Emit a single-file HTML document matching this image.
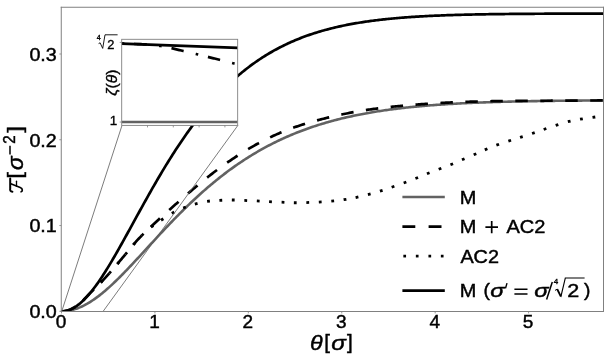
<!DOCTYPE html>
<html><head><meta charset="utf-8"><title>plot</title>
<style>html,body{margin:0;padding:0;background:#fff;}svg{display:block;will-change:transform;}text{font-family:"Liberation Sans",sans-serif;fill:#000;}</style>
</head><body>
<svg width="610" height="360" viewBox="0 0 610 360">
<rect x="0" y="0" width="610" height="360" fill="#fff"/>
<defs><clipPath id="ax"><rect x="61.5" y="7.5" width="542.0" height="303.8"/></clipPath>
<clipPath id="ins"><rect x="121.7" y="39.3" width="115.97" height="86.1"/></clipPath></defs>
<g clip-path="url(#ax)" fill="none" stroke-linejoin="round">
<path d="M61.50,311.30 L62.86,311.28 L64.22,311.21 L65.57,311.10 L66.93,310.95 L68.29,310.75 L69.65,310.51 L71.01,310.23 L72.36,309.90 L73.72,309.54 L75.08,309.13 L76.44,308.68 L77.80,308.18 L79.15,307.65 L80.51,307.08 L81.87,306.47 L83.23,305.82 L84.59,305.14 L85.94,304.41 L87.30,303.66 L88.66,302.86 L90.02,302.03 L91.38,301.17 L92.73,300.28 L94.09,299.35 L95.45,298.40 L96.81,297.41 L98.17,296.40 L99.52,295.35 L100.88,294.28 L102.24,293.19 L103.60,292.07 L104.96,290.92 L106.31,289.75 L107.67,288.56 L109.03,287.35 L110.39,286.11 L111.75,284.86 L113.10,283.59 L114.46,282.30 L115.82,281.00 L117.18,279.67 L118.54,278.34 L119.89,276.99 L121.25,275.62 L122.61,274.25 L123.97,272.86 L125.33,271.46 L126.68,270.05 L128.04,268.63 L129.40,267.20 L130.76,265.77 L132.12,264.32 L133.47,262.87 L134.83,261.42 L136.19,259.96 L137.55,258.50 L138.91,257.03 L140.26,255.56 L141.62,254.08 L142.98,252.61 L144.34,251.13 L145.70,249.65 L147.05,248.17 L148.41,246.69 L149.77,245.22 L151.13,243.74 L152.48,242.26 L153.84,240.79 L155.20,239.32 L156.56,237.85 L157.92,236.39 L159.27,234.93 L160.63,233.47 L161.99,232.02 L163.35,230.57 L164.71,229.13 L166.06,227.69 L167.42,226.26 L168.78,224.83 L170.14,223.42 L171.50,222.00 L172.85,220.60 L174.21,219.20 L175.57,217.81 L176.93,216.43 L178.29,215.05 L179.64,213.68 L181.00,212.32 L182.36,210.97 L183.72,209.63 L185.08,208.30 L186.43,206.97 L187.79,205.65 L189.15,204.35 L190.51,203.05 L191.87,201.76 L193.22,200.48 L194.58,199.21 L195.94,197.96 L197.30,196.71 L198.66,195.47 L200.01,194.24 L201.37,193.02 L202.73,191.81 L204.09,190.61 L205.45,189.42 L206.80,188.24 L208.16,187.08 L209.52,185.92 L210.88,184.77 L212.24,183.64 L213.59,182.51 L214.95,181.39 L216.31,180.29 L217.67,179.19 L219.03,178.11 L220.38,177.04 L221.74,175.98 L223.10,174.92 L224.46,173.88 L225.82,172.85 L227.17,171.83 L228.53,170.82 L229.89,169.82 L231.25,168.83 L232.61,167.86 L233.96,166.89 L235.32,165.93 L236.68,164.98 L238.04,164.05 L239.40,163.12 L240.75,162.21 L242.11,161.30 L243.47,160.40 L244.83,159.52 L246.19,158.64 L247.54,157.78 L248.90,156.92 L250.26,156.08 L251.62,155.24 L252.98,154.42 L254.33,153.60 L255.69,152.80 L257.05,152.00 L258.41,151.21 L259.77,150.44 L261.12,149.67 L262.48,148.91 L263.84,148.16 L265.20,147.42 L266.56,146.69 L267.91,145.97 L269.27,145.26 L270.63,144.56 L271.99,143.86 L273.35,143.18 L274.70,142.50 L276.06,141.83 L277.42,141.17 L278.78,140.52 L280.14,139.88 L281.49,139.25 L282.85,138.62 L284.21,138.00 L285.57,137.40 L286.93,136.80 L288.28,136.20 L289.64,135.62 L291.00,135.04 L292.36,134.47 L293.72,133.91 L295.07,133.36 L296.43,132.81 L297.79,132.28 L299.15,131.74 L300.51,131.22 L301.86,130.71 L303.22,130.20 L304.58,129.70 L305.94,129.20 L307.30,128.71 L308.65,128.23 L310.01,127.76 L311.37,127.29 L312.73,126.83 L314.09,126.38 L315.44,125.93 L316.80,125.49 L318.16,125.06 L319.52,124.63 L320.88,124.21 L322.23,123.80 L323.59,123.39 L324.95,122.99 L326.31,122.59 L327.67,122.20 L329.02,121.82 L330.38,121.44 L331.74,121.06 L333.10,120.70 L334.45,120.33 L335.81,119.98 L337.17,119.63 L338.53,119.28 L339.89,118.94 L341.24,118.61 L342.60,118.28 L343.96,117.95 L345.32,117.63 L346.68,117.32 L348.03,117.01 L349.39,116.71 L350.75,116.41 L352.11,116.11 L353.47,115.82 L354.82,115.54 L356.18,115.25 L357.54,114.98 L358.90,114.71 L360.26,114.44 L361.61,114.18 L362.97,113.92 L364.33,113.66 L365.69,113.41 L367.05,113.16 L368.40,112.92 L369.76,112.68 L371.12,112.45 L372.48,112.22 L373.84,111.99 L375.19,111.77 L376.55,111.55 L377.91,111.33 L379.27,111.12 L380.63,110.91 L381.98,110.71 L383.34,110.51 L384.70,110.31 L386.06,110.12 L387.42,109.92 L388.77,109.74 L390.13,109.55 L391.49,109.37 L392.85,109.19 L394.21,109.02 L395.56,108.85 L396.92,108.68 L398.28,108.51 L399.64,108.35 L401.00,108.19 L402.35,108.03 L403.71,107.87 L405.07,107.72 L406.43,107.57 L407.79,107.43 L409.14,107.28 L410.50,107.14 L411.86,107.00 L413.22,106.86 L414.58,106.73 L415.93,106.60 L417.29,106.47 L418.65,106.34 L420.01,106.22 L421.37,106.10 L422.72,105.98 L424.08,105.86 L425.44,105.74 L426.80,105.63 L428.16,105.52 L429.51,105.41 L430.87,105.30 L432.23,105.19 L433.59,105.09 L434.95,104.99 L436.30,104.89 L437.66,104.79 L439.02,104.70 L440.38,104.60 L441.74,104.51 L443.09,104.42 L444.45,104.33 L445.81,104.24 L447.17,104.16 L448.53,104.07 L449.88,103.99 L451.24,103.91 L452.60,103.83 L453.96,103.76 L455.32,103.68 L456.67,103.60 L458.03,103.53 L459.39,103.46 L460.75,103.39 L462.11,103.32 L463.46,103.25 L464.82,103.19 L466.18,103.12 L467.54,103.06 L468.90,103.00 L470.25,102.93 L471.61,102.88 L472.97,102.82 L474.33,102.76 L475.69,102.70 L477.04,102.65 L478.40,102.59 L479.76,102.54 L481.12,102.49 L482.48,102.44 L483.83,102.39 L485.19,102.34 L486.55,102.29 L487.91,102.24 L489.27,102.20 L490.62,102.15 L491.98,102.11 L493.34,102.07 L494.70,102.02 L496.06,101.98 L497.41,101.94 L498.77,101.90 L500.13,101.86 L501.49,101.82 L502.85,101.79 L504.20,101.75 L505.56,101.72 L506.92,101.68 L508.28,101.65 L509.64,101.61 L510.99,101.58 L512.35,101.55 L513.71,101.52 L515.07,101.49 L516.42,101.46 L517.78,101.43 L519.14,101.40 L520.50,101.37 L521.86,101.34 L523.21,101.31 L524.57,101.29 L525.93,101.26 L527.29,101.24 L528.65,101.21 L530.00,101.19 L531.36,101.16 L532.72,101.14 L534.08,101.12 L535.44,101.10 L536.79,101.08 L538.15,101.05 L539.51,101.03 L540.87,101.01 L542.23,100.99 L543.58,100.97 L544.94,100.96 L546.30,100.94 L547.66,100.92 L549.02,100.90 L550.37,100.88 L551.73,100.87 L553.09,100.85 L554.45,100.83 L555.81,100.82 L557.16,100.80 L558.52,100.79 L559.88,100.77 L561.24,100.76 L562.60,100.75 L563.95,100.73 L565.31,100.72 L566.67,100.70 L568.03,100.69 L569.39,100.68 L570.74,100.67 L572.10,100.66 L573.46,100.64 L574.82,100.63 L576.18,100.62 L577.53,100.61 L578.89,100.60 L580.25,100.59 L581.61,100.58 L582.97,100.57 L584.32,100.56 L585.68,100.55 L587.04,100.54 L588.40,100.53 L589.76,100.52 L591.11,100.52 L592.47,100.51 L593.83,100.50 L595.19,100.49 L596.55,100.48 L597.90,100.48 L599.26,100.47 L600.62,100.46 L601.98,100.45 L603.34,100.45" stroke="#626262" stroke-width="2.6"/>
<path d="M61.50,311.30 L62.86,311.24 L64.22,311.09 L65.57,310.84 L66.93,310.52 L68.29,310.13 L69.65,309.68 L71.01,309.17 L72.36,308.57 L73.72,307.84 L75.08,307.01 L76.44,306.09 L77.80,305.09 L79.15,304.03 L80.51,302.92 L81.87,301.68 L83.23,300.31 L84.59,298.86 L85.94,297.38 L87.30,295.89 L88.66,294.46 L90.02,293.11 L91.38,291.83 L92.73,290.56 L94.09,289.26 L95.45,287.94 L96.81,286.60 L98.17,285.23 L99.52,283.85 L100.88,282.44 L102.24,281.02 L103.60,279.58 L104.96,278.11 L106.31,276.63 L107.67,275.12 L109.03,273.59 L110.39,272.04 L111.75,270.48 L113.10,268.90 L114.46,267.32 L115.82,265.72 L117.18,264.12 L118.54,262.52 L119.89,260.92 L121.25,259.31 L122.61,257.71 L123.97,256.10 L125.33,254.46 L126.68,252.81 L128.04,251.16 L129.40,249.51 L130.76,247.86 L132.12,246.23 L133.47,244.62 L134.83,243.03 L136.19,241.48 L137.55,239.97 L138.91,238.51 L140.26,237.08 L141.62,235.69 L142.98,234.33 L144.34,233.00 L145.70,231.69 L147.05,230.39 L148.41,229.11 L149.77,227.83 L151.13,226.56 L152.48,225.28 L153.84,224.01 L155.20,222.72 L156.56,221.44 L157.92,220.17 L159.27,218.92 L160.63,217.68 L161.99,216.45 L163.35,215.22 L164.71,214.01 L166.06,212.80 L167.42,211.59 L168.78,210.39 L170.14,209.19 L171.50,207.98 L172.85,206.77 L174.21,205.56 L175.57,204.35 L176.93,203.15 L178.29,201.95 L179.64,200.76 L181.00,199.58 L182.36,198.39 L183.72,197.22 L185.08,196.05 L186.43,194.88 L187.79,193.71 L189.15,192.55 L190.51,191.39 L191.87,190.23 L193.22,189.07 L194.58,187.92 L195.94,186.78 L197.30,185.64 L198.66,184.50 L200.01,183.38 L201.37,182.26 L202.73,181.14 L204.09,180.04 L205.45,178.94 L206.80,177.85 L208.16,176.77 L209.52,175.70 L210.88,174.64 L212.24,173.59 L213.59,172.55 L214.95,171.52 L216.31,170.50 L217.67,169.49 L219.03,168.48 L220.38,167.49 L221.74,166.50 L223.10,165.53 L224.46,164.56 L225.82,163.60 L227.17,162.65 L228.53,161.71 L229.89,160.78 L231.25,159.86 L232.61,158.94 L233.96,158.04 L235.32,157.14 L236.68,156.25 L238.04,155.37 L239.40,154.50 L240.75,153.64 L242.11,152.79 L243.47,151.94 L244.83,151.11 L246.19,150.29 L247.54,149.47 L248.90,148.67 L250.26,147.88 L251.62,147.09 L252.98,146.32 L254.33,145.56 L255.69,144.80 L257.05,144.06 L258.41,143.32 L259.77,142.59 L261.12,141.88 L262.48,141.17 L263.84,140.47 L265.20,139.78 L266.56,139.10 L267.91,138.43 L269.27,137.77 L270.63,137.11 L271.99,136.47 L273.35,135.84 L274.70,135.22 L276.06,134.61 L277.42,134.01 L278.78,133.43 L280.14,132.85 L281.49,132.28 L282.85,131.72 L284.21,131.17 L285.57,130.63 L286.93,130.10 L288.28,129.58 L289.64,129.07 L291.00,128.57 L292.36,128.07 L293.72,127.58 L295.07,127.10 L296.43,126.63 L297.79,126.17 L299.15,125.71 L300.51,125.26 L301.86,124.82 L303.22,124.39 L304.58,123.97 L305.94,123.55 L307.30,123.15 L308.65,122.75 L310.01,122.35 L311.37,121.97 L312.73,121.59 L314.09,121.21 L315.44,120.84 L316.80,120.47 L318.16,120.11 L319.52,119.75 L320.88,119.39 L322.23,119.04 L323.59,118.69 L324.95,118.35 L326.31,118.01 L327.67,117.67 L329.02,117.34 L330.38,117.01 L331.74,116.69 L333.10,116.38 L334.45,116.06 L335.81,115.76 L337.17,115.46 L338.53,115.16 L339.89,114.86 L341.24,114.58 L342.60,114.29 L343.96,114.01 L345.32,113.74 L346.68,113.47 L348.03,113.20 L349.39,112.94 L350.75,112.68 L352.11,112.43 L353.47,112.18 L354.82,111.94 L356.18,111.70 L357.54,111.46 L358.90,111.23 L360.26,111.00 L361.61,110.77 L362.97,110.55 L364.33,110.33 L365.69,110.12 L367.05,109.91 L368.40,109.71 L369.76,109.51 L371.12,109.31 L372.48,109.12 L373.84,108.93 L375.19,108.75 L376.55,108.57 L377.91,108.39 L379.27,108.22 L380.63,108.05 L381.98,107.89 L383.34,107.72 L384.70,107.56 L386.06,107.41 L387.42,107.25 L388.77,107.10 L390.13,106.95 L391.49,106.81 L392.85,106.67 L394.21,106.53 L395.56,106.39 L396.92,106.25 L398.28,106.12 L399.64,105.99 L401.00,105.86 L402.35,105.74 L403.71,105.61 L405.07,105.49 L406.43,105.38 L407.79,105.26 L409.14,105.15 L410.50,105.04 L411.86,104.93 L413.22,104.82 L414.58,104.71 L415.93,104.61 L417.29,104.51 L418.65,104.41 L420.01,104.31 L421.37,104.22 L422.72,104.12 L424.08,104.03 L425.44,103.93 L426.80,103.84 L428.16,103.75 L429.51,103.66 L430.87,103.58 L432.23,103.49 L433.59,103.41 L434.95,103.32 L436.30,103.24 L437.66,103.16 L439.02,103.08 L440.38,103.01 L441.74,102.93 L443.09,102.86 L444.45,102.79 L445.81,102.72 L447.17,102.65 L448.53,102.58 L449.88,102.52 L451.24,102.45 L452.60,102.39 L453.96,102.33 L455.32,102.27 L456.67,102.21 L458.03,102.15 L459.39,102.09 L460.75,102.04 L462.11,101.99 L463.46,101.94 L464.82,101.89 L466.18,101.84 L467.54,101.79 L468.90,101.75 L470.25,101.70 L471.61,101.66 L472.97,101.62 L474.33,101.58 L475.69,101.55 L477.04,101.51 L478.40,101.48 L479.76,101.45 L481.12,101.42 L482.48,101.39 L483.83,101.36 L485.19,101.34 L486.55,101.31 L487.91,101.29 L489.27,101.26 L490.62,101.24 L491.98,101.22 L493.34,101.20 L494.70,101.18 L496.06,101.17 L497.41,101.15 L498.77,101.13 L500.13,101.12 L501.49,101.10 L502.85,101.08 L504.20,101.07 L505.56,101.05 L506.92,101.04 L508.28,101.02 L509.64,101.01 L510.99,100.99 L512.35,100.98 L513.71,100.97 L515.07,100.96 L516.42,100.94 L517.78,100.93 L519.14,100.92 L520.50,100.91 L521.86,100.91 L523.21,100.90 L524.57,100.89 L525.93,100.88 L527.29,100.87 L528.65,100.87 L530.00,100.86 L531.36,100.85 L532.72,100.84 L534.08,100.84 L535.44,100.83 L536.79,100.82 L538.15,100.81 L539.51,100.81 L540.87,100.80 L542.23,100.79 L543.58,100.78 L544.94,100.77 L546.30,100.76 L547.66,100.75 L549.02,100.74 L550.37,100.73 L551.73,100.72 L553.09,100.71 L554.45,100.70 L555.81,100.69 L557.16,100.68 L558.52,100.67 L559.88,100.66 L561.24,100.65 L562.60,100.65 L563.95,100.64 L565.31,100.63 L566.67,100.62 L568.03,100.62 L569.39,100.61 L570.74,100.60 L572.10,100.59 L573.46,100.59 L574.82,100.58 L576.18,100.57 L577.53,100.57 L578.89,100.56 L580.25,100.55 L581.61,100.55 L582.97,100.54 L584.32,100.54 L585.68,100.53 L587.04,100.52 L588.40,100.52 L589.76,100.51 L591.11,100.50 L592.47,100.50 L593.83,100.49 L595.19,100.49 L596.55,100.48 L597.90,100.47 L599.26,100.47 L600.62,100.46 L601.98,100.45 L603.34,100.45" stroke="#000" stroke-width="2.7" stroke-dasharray="12.47 12.50"/>
<path d="M61.50,311.30 L62.86,311.24 L64.22,311.09 L65.57,310.84 L66.93,310.52 L68.29,310.13 L69.65,309.68 L71.01,309.17 L72.36,308.57 L73.72,307.84 L75.08,307.01 L76.44,306.09 L77.80,305.09 L79.15,304.03 L80.51,302.92 L81.87,301.68 L83.23,300.31 L84.59,298.86 L85.94,297.38 L87.30,295.89 L88.66,294.46 L90.02,293.11 L91.38,291.83 L92.73,290.56 L94.09,289.26 L95.45,287.94 L96.81,286.60 L98.17,285.23 L99.52,283.85 L100.88,282.44 L102.24,281.02 L103.60,279.58 L104.96,278.11 L106.31,276.63 L107.67,275.12 L109.03,273.59 L110.39,272.04 L111.75,270.48 L113.10,268.90 L114.46,267.32 L115.82,265.72 L117.18,264.12 L118.54,262.52 L119.89,260.92 L121.25,259.31 L122.61,257.71 L123.97,256.10 L125.33,254.46 L126.68,252.81 L128.04,251.16 L129.40,249.51 L130.76,247.86 L132.12,246.23 L133.47,244.62 L134.83,243.03 L136.19,241.48 L137.55,239.97 L138.91,238.51 L140.26,237.08 L141.62,235.69 L142.98,234.33 L144.34,233.00 L145.70,231.69 L147.05,230.39" stroke="#000" stroke-width="2.7" stroke-dasharray="2.7 9.765"/>
<rect x="-1.4" y="-1.4" width="2.8" height="2.8" fill="#000" stroke="none" transform="translate(152.20,226.30) rotate(-34.2)"/>
<rect x="-1.4" y="-1.4" width="2.8" height="2.8" fill="#000" stroke="none" transform="translate(162.20,219.50) rotate(-33.2)"/>
<rect x="-1.4" y="-1.4" width="2.8" height="2.8" fill="#000" stroke="none" transform="translate(173.00,212.70) rotate(-28.3)"/>
<rect x="-1.4" y="-1.4" width="2.8" height="2.8" fill="#000" stroke="none" transform="translate(184.50,207.50) rotate(-21.0)"/>
<rect x="-1.4" y="-1.4" width="2.8" height="2.8" fill="#000" stroke="none" transform="translate(196.20,203.80) rotate(-14.7)"/>
<rect x="-1.4" y="-1.4" width="2.8" height="2.8" fill="#000" stroke="none" transform="translate(208.50,201.20) rotate(-8.1)"/>
<rect x="-1.4" y="-1.4" width="2.8" height="2.8" fill="#000" stroke="none" transform="translate(220.80,200.30) rotate(-2.8)"/>
<rect x="-1.4" y="-1.4" width="2.8" height="2.8" fill="#000" stroke="none" transform="translate(233.25,200.00) rotate(0.5)"/>
<rect x="-1.4" y="-1.4" width="2.8" height="2.8" fill="#000" stroke="none" transform="translate(245.75,200.50) rotate(2.3)"/>
<rect x="-1.4" y="-1.4" width="2.8" height="2.8" fill="#000" stroke="none" transform="translate(258.25,201.00) rotate(2.9)"/>
<rect x="-1.4" y="-1.4" width="2.8" height="2.8" fill="#000" stroke="none" transform="translate(270.50,201.75) rotate(2.9)"/>
<rect x="-1.4" y="-1.4" width="2.8" height="2.8" fill="#000" stroke="none" transform="translate(283.00,202.25) rotate(2.3)"/>
<rect x="-1.4" y="-1.4" width="2.8" height="2.8" fill="#000" stroke="none" transform="translate(295.25,202.75) rotate(0.6)"/>
<rect x="-1.4" y="-1.4" width="2.8" height="2.8" fill="#000" stroke="none" transform="translate(307.75,202.50) rotate(-1.7)"/>
<rect x="-1.4" y="-1.4" width="2.8" height="2.8" fill="#000" stroke="none" transform="translate(320.25,202.00) rotate(-3.4)"/>
<rect x="-1.4" y="-1.4" width="2.8" height="2.8" fill="#000" stroke="none" transform="translate(332.70,201.00) rotate(-5.8)"/>
<rect x="-1.4" y="-1.4" width="2.8" height="2.8" fill="#000" stroke="none" transform="translate(345.00,199.50) rotate(-8.8)"/>
<rect x="-1.4" y="-1.4" width="2.8" height="2.8" fill="#000" stroke="none" transform="translate(357.00,197.25) rotate(-12.2)"/>
<rect x="-1.4" y="-1.4" width="2.8" height="2.8" fill="#000" stroke="none" transform="translate(369.25,194.25) rotate(-15.0)"/>
<rect x="-1.4" y="-1.4" width="2.8" height="2.8" fill="#000" stroke="none" transform="translate(381.25,190.75) rotate(-17.5)"/>
<rect x="-1.4" y="-1.4" width="2.8" height="2.8" fill="#000" stroke="none" transform="translate(393.00,186.75) rotate(-19.2)"/>
<rect x="-1.4" y="-1.4" width="2.8" height="2.8" fill="#000" stroke="none" transform="translate(405.00,182.50) rotate(-20.2)"/>
<rect x="-1.4" y="-1.4" width="2.8" height="2.8" fill="#000" stroke="none" transform="translate(416.75,178.00) rotate(-21.7)"/>
<rect x="-1.4" y="-1.4" width="2.8" height="2.8" fill="#000" stroke="none" transform="translate(428.25,173.25) rotate(-21.7)"/>
<rect x="-1.4" y="-1.4" width="2.8" height="2.8" fill="#000" stroke="none" transform="translate(440.00,168.75) rotate(-21.0)"/>
<rect x="-1.4" y="-1.4" width="2.8" height="2.8" fill="#000" stroke="none" transform="translate(451.75,164.25) rotate(-22.2)"/>
<rect x="-1.4" y="-1.4" width="2.8" height="2.8" fill="#000" stroke="none" transform="translate(463.25,159.25) rotate(-23.3)"/>
<rect x="-1.4" y="-1.4" width="2.8" height="2.8" fill="#000" stroke="none" transform="translate(475.00,154.25) rotate(-23.5)"/>
<rect x="-1.4" y="-1.4" width="2.8" height="2.8" fill="#000" stroke="none" transform="translate(486.10,149.30) rotate(-22.8)"/>
<rect x="-1.4" y="-1.4" width="2.8" height="2.8" fill="#000" stroke="none" transform="translate(497.70,144.70) rotate(-20.0)"/>
<rect x="-1.4" y="-1.4" width="2.8" height="2.8" fill="#000" stroke="none" transform="translate(509.70,140.70) rotate(-18.0)"/>
<rect x="-1.4" y="-1.4" width="2.8" height="2.8" fill="#000" stroke="none" transform="translate(521.40,137.00) rotate(-17.8)"/>
<rect x="-1.4" y="-1.4" width="2.8" height="2.8" fill="#000" stroke="none" transform="translate(533.40,133.10) rotate(-18.7)"/>
<rect x="-1.4" y="-1.4" width="2.8" height="2.8" fill="#000" stroke="none" transform="translate(545.00,129.00) rotate(-18.9)"/>
<rect x="-1.4" y="-1.4" width="2.8" height="2.8" fill="#000" stroke="none" transform="translate(557.00,125.00) rotate(-17.4)"/>
<rect x="-1.4" y="-1.4" width="2.8" height="2.8" fill="#000" stroke="none" transform="translate(569.20,121.40) rotate(-13.8)"/>
<rect x="-1.4" y="-1.4" width="2.8" height="2.8" fill="#000" stroke="none" transform="translate(581.40,119.00) rotate(-9.7)"/>
<rect x="-1.4" y="-1.4" width="2.8" height="2.8" fill="#000" stroke="none" transform="translate(593.90,117.20) rotate(-8.2)"/>
<path d="M61.50,311.30 L62.86,311.26 L64.22,311.13 L65.57,310.91 L66.93,310.60 L68.29,310.21 L69.65,309.74 L71.01,309.17 L72.36,308.53 L73.72,307.80 L75.08,306.99 L76.44,306.11 L77.80,305.14 L79.15,304.09 L80.51,302.97 L81.87,301.78 L83.23,300.52 L84.59,299.18 L85.94,297.78 L87.30,296.31 L88.66,294.78 L90.02,293.18 L91.38,291.53 L92.73,289.82 L94.09,288.05 L95.45,286.23 L96.81,284.36 L98.17,282.45 L99.52,280.48 L100.88,278.47 L102.24,276.42 L103.60,274.33 L104.96,272.21 L106.31,270.05 L107.67,267.85 L109.03,265.62 L110.39,263.37 L111.75,261.09 L113.10,258.78 L114.46,256.45 L115.82,254.10 L117.18,251.73 L118.54,249.34 L119.89,246.94 L121.25,244.52 L122.61,242.09 L123.97,239.64 L125.33,237.19 L126.68,234.73 L128.04,232.27 L129.40,229.80 L130.76,227.33 L132.12,224.85 L133.47,222.37 L134.83,219.90 L136.19,217.42 L137.55,214.95 L138.91,212.48 L140.26,210.02 L141.62,207.56 L142.98,205.10 L144.34,202.66 L145.70,200.22 L147.05,197.80 L148.41,195.38 L149.77,192.97 L151.13,190.58 L152.48,188.20 L153.84,185.83 L155.20,183.47 L156.56,181.13 L157.92,178.80 L159.27,176.49 L160.63,174.19 L161.99,171.91 L163.35,169.65 L164.71,167.40 L166.06,165.17 L167.42,162.96 L168.78,160.77 L170.14,158.59 L171.50,156.44 L172.85,154.30 L174.21,152.18 L175.57,150.09 L176.93,148.01 L178.29,145.95 L179.64,143.91 L181.00,141.89 L182.36,139.89 L183.72,137.92 L185.08,135.96 L186.43,134.02 L187.79,132.11 L189.15,130.22 L190.51,128.34 L191.87,126.49 L193.22,124.66 L194.58,122.85 L195.94,121.06 L197.30,119.29 L198.66,117.55 L200.01,115.82 L201.37,114.11 L202.73,112.43 L204.09,110.77 L205.45,109.13 L206.80,107.50 L208.16,105.90 L209.52,104.32 L210.88,102.77 L212.24,101.23 L213.59,99.71 L214.95,98.21 L216.31,96.73 L217.67,95.27 L219.03,93.84 L220.38,92.42 L221.74,91.02 L223.10,89.64 L224.46,88.28 L225.82,86.94 L227.17,85.62 L228.53,84.32 L229.89,83.03 L231.25,81.77 L232.61,80.52 L233.96,79.30 L235.32,78.09 L236.68,76.90 L238.04,75.72 L239.40,74.57 L240.75,73.43 L242.11,72.31 L243.47,71.21 L244.83,70.12 L246.19,69.05 L247.54,68.00 L248.90,66.96 L250.26,65.94 L251.62,64.94 L252.98,63.95 L254.33,62.98 L255.69,62.02 L257.05,61.08 L258.41,60.16 L259.77,59.25 L261.12,58.35 L262.48,57.47 L263.84,56.60 L265.20,55.75 L266.56,54.92 L267.91,54.09 L269.27,53.28 L270.63,52.49 L271.99,51.71 L273.35,50.94 L274.70,50.18 L276.06,49.44 L277.42,48.71 L278.78,48.00 L280.14,47.29 L281.49,46.60 L282.85,45.92 L284.21,45.25 L285.57,44.60 L286.93,43.96 L288.28,43.32 L289.64,42.70 L291.00,42.09 L292.36,41.49 L293.72,40.91 L295.07,40.33 L296.43,39.76 L297.79,39.21 L299.15,38.66 L300.51,38.13 L301.86,37.60 L303.22,37.09 L304.58,36.58 L305.94,36.08 L307.30,35.60 L308.65,35.12 L310.01,34.65 L311.37,34.19 L312.73,33.74 L314.09,33.30 L315.44,32.86 L316.80,32.44 L318.16,32.02 L319.52,31.61 L320.88,31.21 L322.23,30.82 L323.59,30.43 L324.95,30.05 L326.31,29.68 L327.67,29.32 L329.02,28.96 L330.38,28.61 L331.74,28.27 L333.10,27.94 L334.45,27.61 L335.81,27.29 L337.17,26.97 L338.53,26.67 L339.89,26.36 L341.24,26.07 L342.60,25.78 L343.96,25.49 L345.32,25.22 L346.68,24.94 L348.03,24.68 L349.39,24.42 L350.75,24.16 L352.11,23.91 L353.47,23.67 L354.82,23.43 L356.18,23.19 L357.54,22.96 L358.90,22.74 L360.26,22.52 L361.61,22.30 L362.97,22.09 L364.33,21.89 L365.69,21.69 L367.05,21.49 L368.40,21.30 L369.76,21.11 L371.12,20.92 L372.48,20.74 L373.84,20.57 L375.19,20.40 L376.55,20.23 L377.91,20.06 L379.27,19.90 L380.63,19.74 L381.98,19.59 L383.34,19.44 L384.70,19.29 L386.06,19.15 L387.42,19.01 L388.77,18.87 L390.13,18.74 L391.49,18.61 L392.85,18.48 L394.21,18.35 L395.56,18.23 L396.92,18.11 L398.28,17.99 L399.64,17.88 L401.00,17.77 L402.35,17.66 L403.71,17.55 L405.07,17.45 L406.43,17.35 L407.79,17.25 L409.14,17.15 L410.50,17.06 L411.86,16.97 L413.22,16.88 L414.58,16.79 L415.93,16.70 L417.29,16.62 L418.65,16.54 L420.01,16.46 L421.37,16.38 L422.72,16.31 L424.08,16.23 L425.44,16.16 L426.80,16.09 L428.16,16.02 L429.51,15.95 L430.87,15.89 L432.23,15.83 L433.59,15.76 L434.95,15.70 L436.30,15.64 L437.66,15.59 L439.02,15.53 L440.38,15.48 L441.74,15.42 L443.09,15.37 L444.45,15.32 L445.81,15.27 L447.17,15.22 L448.53,15.18 L449.88,15.13 L451.24,15.09 L452.60,15.04 L453.96,15.00 L455.32,14.96 L456.67,14.92 L458.03,14.88 L459.39,14.84 L460.75,14.81 L462.11,14.77 L463.46,14.74 L464.82,14.70 L466.18,14.67 L467.54,14.64 L468.90,14.60 L470.25,14.57 L471.61,14.54 L472.97,14.51 L474.33,14.49 L475.69,14.46 L477.04,14.43 L478.40,14.41 L479.76,14.38 L481.12,14.36 L482.48,14.33 L483.83,14.31 L485.19,14.29 L486.55,14.26 L487.91,14.24 L489.27,14.22 L490.62,14.20 L491.98,14.18 L493.34,14.16 L494.70,14.14 L496.06,14.12 L497.41,14.11 L498.77,14.09 L500.13,14.07 L501.49,14.06 L502.85,14.04 L504.20,14.03 L505.56,14.01 L506.92,14.00 L508.28,13.98 L509.64,13.97 L510.99,13.96 L512.35,13.94 L513.71,13.93 L515.07,13.92 L516.42,13.91 L517.78,13.89 L519.14,13.88 L520.50,13.87 L521.86,13.86 L523.21,13.85 L524.57,13.84 L525.93,13.83 L527.29,13.82 L528.65,13.81 L530.00,13.81 L531.36,13.80 L532.72,13.79 L534.08,13.78 L535.44,13.77 L536.79,13.76 L538.15,13.76 L539.51,13.75 L540.87,13.74 L542.23,13.74 L543.58,13.73 L544.94,13.72 L546.30,13.72 L547.66,13.71 L549.02,13.71 L550.37,13.70 L551.73,13.69 L553.09,13.69 L554.45,13.68 L555.81,13.68 L557.16,13.67 L558.52,13.67 L559.88,13.67 L561.24,13.66 L562.60,13.66 L563.95,13.65 L565.31,13.65 L566.67,13.64 L568.03,13.64 L569.39,13.64 L570.74,13.63 L572.10,13.63 L573.46,13.63 L574.82,13.62 L576.18,13.62 L577.53,13.62 L578.89,13.62 L580.25,13.61 L581.61,13.61 L582.97,13.61 L584.32,13.60 L585.68,13.60 L587.04,13.60 L588.40,13.60 L589.76,13.60 L591.11,13.59 L592.47,13.59 L593.83,13.59 L595.19,13.59 L596.55,13.59 L597.90,13.58 L599.26,13.58 L600.62,13.58 L601.98,13.58 L603.34,13.58" stroke="#000" stroke-width="2.7"/>
</g>
<g stroke="#5a5a5a" stroke-width="0.8" fill="none">
<path d="M122.0,125.4 L61.7,311.5"/>
<path d="M237.9,125.4 L103.0,311.5"/>
</g>
<path d="M61.25,6.8 V312 M603.5,6.8 V312 M60.75,7.25 H604 M60.75,311.5 H604" fill="none" stroke="#808080" stroke-width="1"/>
<g stroke="#808080" stroke-width="0.8">
<path d="M61.50,311.5 v1.9"/>
<path d="M154.92,311.5 v1.9"/>
<path d="M248.34,311.5 v1.9"/>
<path d="M341.76,311.5 v1.9"/>
<path d="M435.18,311.5 v1.9"/>
<path d="M528.60,311.5 v1.9"/>
<path d="M61.25,311.30 h-1.9"/>
<path d="M61.25,225.53 h-1.9"/>
<path d="M61.25,139.76 h-1.9"/>
<path d="M61.25,53.99 h-1.9"/>
</g>
<g font-size="19" stroke="#000" stroke-width="0.45">
<text x="61.00" y="328.4" text-anchor="middle">0</text>
<text x="154.42" y="328.4" text-anchor="middle">1</text>
<text x="247.84" y="328.4" text-anchor="middle">2</text>
<text x="341.26" y="328.4" text-anchor="middle">3</text>
<text x="434.68" y="328.4" text-anchor="middle">4</text>
<text x="528.10" y="328.4" text-anchor="middle">5</text>
<text x="56.8" y="318.20" text-anchor="end" textLength="27.4" lengthAdjust="spacingAndGlyphs">0.0</text>
<text x="56.8" y="232.43" text-anchor="end" textLength="27.4" lengthAdjust="spacingAndGlyphs">0.1</text>
<text x="56.8" y="146.66" text-anchor="end" textLength="27.4" lengthAdjust="spacingAndGlyphs">0.2</text>
<text x="56.8" y="60.89" text-anchor="end" textLength="27.4" lengthAdjust="spacingAndGlyphs">0.3</text>
</g>
<rect x="121.7" y="39.3" width="115.97" height="86.1" fill="#fff" stroke="none"/>
<g clip-path="url(#ins)" fill="none">
<path d="M121.7,122.05 H237.7" stroke="#626262" stroke-width="2.5"/>
<path d="M121.70,43.50 L122.68,43.53 L123.65,43.56 L124.63,43.59 L125.61,43.63 L126.59,43.66 L127.56,43.69 L128.54,43.73 L129.52,43.76 L130.50,43.80 L131.47,43.83 L132.45,43.87 L133.43,43.91 L134.41,43.95 L135.38,43.98 L136.36,44.02 L137.34,44.06 L138.31,44.10 L139.29,44.14 L140.27,44.17 L141.25,44.21 L142.22,44.26 L143.20,44.30 L144.18,44.35 L145.16,44.40 L146.13,44.45 L147.11,44.51 L148.09,44.57 L149.06,44.64 L150.04,44.72 L151.02,44.80 L152.00,44.89 L152.97,44.99 L153.95,45.09 L154.93,45.19 L155.91,45.31 L156.88,45.43 L157.86,45.57 L158.84,45.72 L159.82,45.87 L160.79,46.03 L161.77,46.20 L162.75,46.37 L163.72,46.56 L164.70,46.74 L165.68,46.94 L166.66,47.13 L167.63,47.33 L168.61,47.54 L169.59,47.76 L170.57,47.97 L171.54,48.20 L172.52,48.42 L173.50,48.65 L174.47,48.89 L175.45,49.13 L176.43,49.37 L177.41,49.61 L178.38,49.84 L179.36,50.07 L180.34,50.31 L181.32,50.54 L182.29,50.77 L183.27,51.00 L184.25,51.23 L185.23,51.45 L186.20,51.68 L187.18,51.91 L188.16,52.14 L189.13,52.37 L190.11,52.60 L191.09,52.82 L192.07,53.05 L193.04,53.28 L194.02,53.52 L195.00,53.75 L195.98,53.98 L196.95,54.22 L197.93,54.45 L198.91,54.69 L199.88,54.93 L200.86,55.17 L201.84,55.40 L202.82,55.64 L203.79,55.88 L204.77,56.13 L205.75,56.37 L206.73,56.61 L207.70,56.85 L208.68,57.09 L209.66,57.34 L210.64,57.58 L211.61,57.83 L212.59,58.07 L213.57,58.32 L214.54,58.56 L215.52,58.81 L216.50,59.06 L217.48,59.30 L218.45,59.55 L219.43,59.80 L220.41,60.06 L221.39,60.31 L222.36,60.56 L223.34,60.81 L224.32,61.06 L225.29,61.31 L226.27,61.57 L227.25,61.82 L228.23,62.07 L229.20,62.32 L230.18,62.57 L231.16,62.81 L232.14,63.06 L233.11,63.30 L234.09,63.55 L235.07,63.79 L236.05,64.03 L237.02,64.26 L238.00,64.50" stroke="#000" stroke-width="2.7" stroke-dasharray="2.6 10 12.5 12.4"/>
<path d="M121.7,43.7 L237.9,47.8" stroke="#000" stroke-width="2.7"/>
</g>
<rect x="121.7" y="39.3" width="115.97" height="86.1" fill="none" stroke="#808080" stroke-width="0.9"/>
<g stroke="#808080" stroke-width="0.8">
<path d="M147.50,125.4 v2"/>
<path d="M173.30,125.4 v2"/>
<path d="M199.10,125.4 v2"/>
<path d="M224.90,125.4 v2"/>
<path d="M121.7,42.4 h-2"/><path d="M121.7,122.05 h-2"/>
</g>
<text x="117.2" y="124.9" font-size="13.4" text-anchor="end" stroke="#000" stroke-width="0.35">1</text>
<text x="107.3" y="48.8" font-size="12.8" stroke="#000" stroke-width="0.35">2</text>
<text x="96.7" y="39.8" font-size="7" stroke="#000" stroke-width="0.35">4</text>
<path d="M98.6,43.6 l1.5,-0.8 l2.6,5.6 l2.3,-13.6 h12.6" fill="none" stroke="#000" stroke-width="0.9"/>
<text transform="translate(116.7,95.7) rotate(-90)" font-size="14.5" textLength="26.2" lengthAdjust="spacingAndGlyphs" stroke="#000" stroke-width="0.4"><tspan font-style="italic">ζ</tspan>(<tspan font-style="italic">θ</tspan>)</text>
<g font-size="20.5" stroke="#000" stroke-width="0.45">
<text x="310.0" y="349.5" font-style="italic" textLength="12.6" lengthAdjust="spacingAndGlyphs">θ</text>
<text x="324.3" y="348.7">[</text>
<text x="331.3" y="349.5" font-style="italic" textLength="14.6" lengthAdjust="spacingAndGlyphs">σ</text>
<text x="346.9" y="348.7">]</text>
</g>
<g transform="translate(22.8,192.2) rotate(-90)" stroke="#000" stroke-width="0.45">
<g fill="none" stroke="#000" stroke-linecap="round" stroke-linejoin="round">
<path d="M0.5,-10.4 C0.6,-12.4 1.8,-12.9 3.6,-12.6 L13.8,-12.6" stroke-width="2"/>
<path d="M8.4,-12 L4.7,-2.6 C4.2,-1.3 3.4,-0.5 2.3,-0.5 C1.3,-0.5 0.6,-1 0.4,-1.7" stroke-width="1.7"/>
<path d="M5.8,-6.3 L11.0,-6.3" stroke-width="1.3"/>
</g>
<text x="13.4" y="-1" font-size="21" textLength="6.6" lengthAdjust="spacingAndGlyphs">[</text>
<text x="22.3" y="0" font-size="22" font-style="italic" textLength="13.6" lengthAdjust="spacingAndGlyphs">σ</text>
<path d="M37.6,-12.8 H46.4" stroke="#000" stroke-width="1.5" fill="none"/>
<text x="48.5" y="-7.8" font-size="16.4" textLength="8.4" lengthAdjust="spacingAndGlyphs">2</text>
<text x="59.4" y="-1" font-size="21" textLength="6.6" lengthAdjust="spacingAndGlyphs">]</text>
</g>
<g fill="none" stroke-width="2.7">
<path d="M402.4,197.0 H444.8" stroke="#626262" stroke-width="2.6"/>
<path d="M402.4,226.6 H444.8" stroke="#000" stroke-dasharray="12.9 13.3"/>
<rect x="403.35" y="254.75" width="2.7" height="2.7" fill="#000" stroke="none"/>
<rect x="415.85" y="254.75" width="2.7" height="2.7" fill="#000" stroke="none"/>
<rect x="428.45" y="254.75" width="2.7" height="2.7" fill="#000" stroke="none"/>
<rect x="440.85" y="254.75" width="2.7" height="2.7" fill="#000" stroke="none"/>
<path d="M402.4,290.6 H444.8" stroke="#000"/>
</g>
<g font-size="19.2" stroke="#000" stroke-width="0.45">
<text x="459.7" y="203.5" textLength="16.6" lengthAdjust="spacingAndGlyphs">M</text>
<text x="459.7" y="233.3" textLength="16.6" lengthAdjust="spacingAndGlyphs">M</text>
<text x="506.5" y="233.3" textLength="39" lengthAdjust="spacingAndGlyphs">AC2</text>
<text x="460.4" y="262.7" textLength="38.6" lengthAdjust="spacingAndGlyphs">AC2</text>
<text x="459.7" y="296.9" textLength="16.6" lengthAdjust="spacingAndGlyphs">M</text>
<text x="483.6" y="296.4">(</text>
<text x="490.2" y="296.9" font-style="italic" textLength="14.2" lengthAdjust="spacingAndGlyphs">σ</text>
<text x="534.2" y="296.9" font-style="italic" textLength="14.2" lengthAdjust="spacingAndGlyphs">σ</text>
<text x="567.2" y="296.9" textLength="12" lengthAdjust="spacingAndGlyphs">2</text>
<text x="584.0" y="296.4">)</text>
</g>
<g fill="none" stroke="#000">
<path d="M485.4,227.15 H498 M491.7,221 V233.3" stroke-width="1.7"/>
<path d="M514.4,289.2 H527.5 M514.4,294.0 H527.5" stroke-width="1.6"/>
<path d="M507.0,283.1 L505.5,288.4" stroke-width="1.4"/>
<path d="M552.3,282 L546.6,299.6" stroke-width="1.5"/>
<path d="M555.0,290.4 L557.2,289.2" stroke-width="1.0"/>
<path d="M557.2,289.2 L560.8,296.4" stroke-width="1.9"/>
<path d="M560.8,297 L565.3,278 H584.6" stroke-width="1.1"/>
</g>
<text x="553.8" y="284" font-size="8" stroke="#000" stroke-width="0.35">4</text>
</svg></body></html>
